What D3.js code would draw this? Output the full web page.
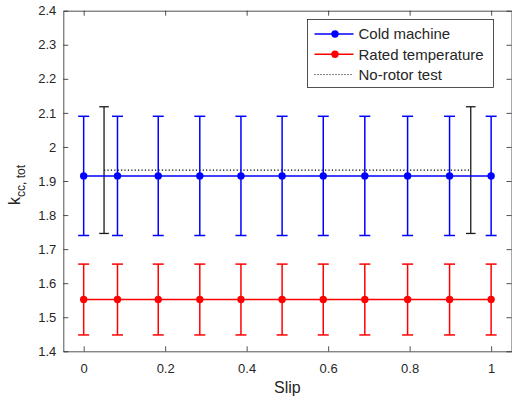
<!DOCTYPE html>
<html>
<head>
<meta charset="utf-8">
<script src="https://cdn.jsdelivr.net/npm/d3@7"></script>
<style>
body { margin: 0; background: #fff; }
text { font-family: "Liberation Sans", Arial, sans-serif; fill: #262626; }
</style>
</head>
<body>
<div id="chart"></div>
<script>
// Cold machine / rated temperature measurements
const slip = [0, 0.083, 0.183, 0.285, 0.386, 0.487, 0.588, 0.69, 0.795, 0.898, 1];
const coldMean = [1.915, 1.915, 1.915, 1.915, 1.915, 1.915, 1.915, 1.915, 1.915, 1.915, 1.915];
const coldErr = [0.175, 0.175, 0.175, 0.175, 0.175, 0.175, 0.175, 0.175, 0.175, 0.175, 0.175];
const ratedMean = [1.552, 1.552, 1.552, 1.552, 1.552, 1.552, 1.552, 1.552, 1.552, 1.552, 1.552];
const ratedErr = [0.104, 0.104, 0.104, 0.104, 0.104, 0.104, 0.104, 0.104, 0.104, 0.104, 0.104];

// No-rotor test
const noRotorSlip = [0.05, 0.95];
const noRotorMean = [1.932, 1.932];
const noRotorErr = [0.186, 0.186];

const xTicks = [0, 0.2, 0.4, 0.6, 0.8, 1];
const yTicks = [1.4, 1.5, 1.6, 1.7, 1.8, 1.9, 2, 2.1, 2.2, 2.3, 2.4];

const width = 512;
const height = 400;
const margin = { top: 10.7, right: 0.5, bottom: 48.7, left: 63.3 };
const ink = "#262626";

const svg = d3.select("#chart")
    .append("svg")
    .attr("width", width)
    .attr("height", height);

const x = d3.scaleLinear()
    .domain([-0.05, 1.05])
    .range([margin.left, width - margin.right]);

const y = d3.scaleLinear()
    .domain([1.4, 2.4])
    .range([height - margin.bottom, margin.top]);

const fmt = d => String(+d.toFixed(1));

// axes with inward ticks on all four sides
function styleAxis(g) {
    g.select(".domain").attr("stroke", ink).attr("stroke-width", 0.8);
    g.selectAll(".tick line").attr("stroke", ink).attr("stroke-width", 0.8);
    g.selectAll("text").style("font-size", "13px").attr("fill", ink);
}

svg.append("g")
    .attr("transform", `translate(0, ${y(1.4)})`)
    .call(d3.axisBottom(x).tickValues(xTicks).tickFormat(fmt).tickSizeInner(-5).tickSizeOuter(0).tickPadding(12))
    .call(styleAxis);

svg.append("g")
    .attr("transform", `translate(0, ${y(2.4)})`)
    .call(d3.axisTop(x).tickValues(xTicks).tickFormat("").tickSizeInner(-5).tickSizeOuter(0))
    .call(styleAxis);

svg.append("g")
    .attr("transform", `translate(${x(-0.05)}, 0)`)
    .call(d3.axisLeft(y).tickValues(yTicks).tickFormat(fmt).tickSizeInner(-5).tickSizeOuter(0).tickPadding(7))
    .call(styleAxis);

svg.append("g")
    .attr("transform", `translate(${x(1.05)}, 0)`)
    .call(d3.axisRight(y).tickValues(yTicks).tickFormat("").tickSizeInner(-5).tickSizeOuter(0))
    .call(styleAxis);

// error bar series
function drawSeries(xs, means, errs, color, opts) {
    const data = xs.map((s, i) => ({ s: s, m: means[i], e: errs[i] }));
    const g = svg.append("g");

    g.append("path")
        .datum(data)
        .attr("fill", "none")
        .attr("stroke", opts.lineColor || color)
        .attr("stroke-width", opts.lineWidth)
        .attr("stroke-dasharray", opts.dash || null)
        .attr("d", d3.line().x(d => x(d.s)).y(d => y(d.m)));

    const bars = g.selectAll(".bar")
        .data(data)
        .enter()
        .append("g");

    bars.append("line")
        .attr("x1", d => x(d.s)).attr("x2", d => x(d.s))
        .attr("y1", d => y(d.m - d.e)).attr("y2", d => y(d.m + d.e))
        .attr("stroke", color).attr("stroke-width", opts.barWidth);

    [-1, 1].forEach(k => {
        bars.append("line")
            .attr("x1", d => x(d.s) - opts.cap).attr("x2", d => x(d.s) + opts.cap)
            .attr("y1", d => y(d.m + k * d.e)).attr("y2", d => y(d.m + k * d.e))
            .attr("stroke", color).attr("stroke-width", opts.barWidth);
    });

    if (opts.marker) {
        bars.append("circle")
            .attr("cx", d => x(d.s))
            .attr("cy", d => y(d.m))
            .attr("r", 3.7)
            .attr("fill", color);
    }
}

drawSeries(noRotorSlip, noRotorMean, noRotorErr, "#1a1a1a",
    { lineColor: "#000", lineWidth: 1.2, dash: "1.2,2.2", barWidth: 1.3, cap: 4.8, marker: false });
drawSeries(slip, coldMean, coldErr, "#0000ff",
    { lineWidth: 1.5, barWidth: 1.5, cap: 5.5, marker: true });
drawSeries(slip, ratedMean, ratedErr, "#ff0000",
    { lineWidth: 1.5, barWidth: 1.5, cap: 5.5, marker: true });

// axis labels
svg.append("text")
    .attr("x", x(0.5))
    .attr("y", 393)
    .attr("text-anchor", "middle")
    .style("font-size", "16px")
    .text("Slip");

const ylab = svg.append("text")
    .attr("transform", `translate(20, 185) rotate(-90)`)
    .attr("text-anchor", "middle")
    .style("font-size", "16px");
ylab.append("tspan").text("k");
ylab.append("tspan").attr("dy", 5).style("font-size", "12px").text("cc, tot");

// legend
const legendItems = [
    { label: "Cold machine", color: "#0000ff", dash: null, marker: true },
    { label: "Rated temperature", color: "#ff0000", dash: null, marker: true },
    { label: "No-rotor test", color: "#000", dash: "1,2", marker: false },
];

const legend = svg.append("g").attr("transform", "translate(307.5, 19.5)");
legend.append("rect")
    .attr("width", 186)
    .attr("height", 68)
    .attr("fill", "#fff")
    .attr("stroke", ink)
    .attr("stroke-width", 0.8);

const rows = legend.selectAll(".row")
    .data(legendItems)
    .enter()
    .append("g")
    .attr("transform", (d, i) => `translate(0, ${14.5 + i * 20.3})`);

rows.append("line")
    .attr("x1", 7).attr("x2", 46)
    .attr("stroke", d => d.color)
    .attr("stroke-width", d => d.marker ? 1.5 : 1)
    .attr("stroke-dasharray", d => d.dash);

rows.filter(d => d.marker)
    .append("circle")
    .attr("cx", 27.5)
    .attr("r", 3.7)
    .attr("fill", d => d.color);

rows.append("text")
    .attr("x", 51)
    .attr("y", 5.3)
    .style("font-size", "15px")
    .attr("fill", "#000")
    .text(d => d.label);
</script>
</body>
</html>
